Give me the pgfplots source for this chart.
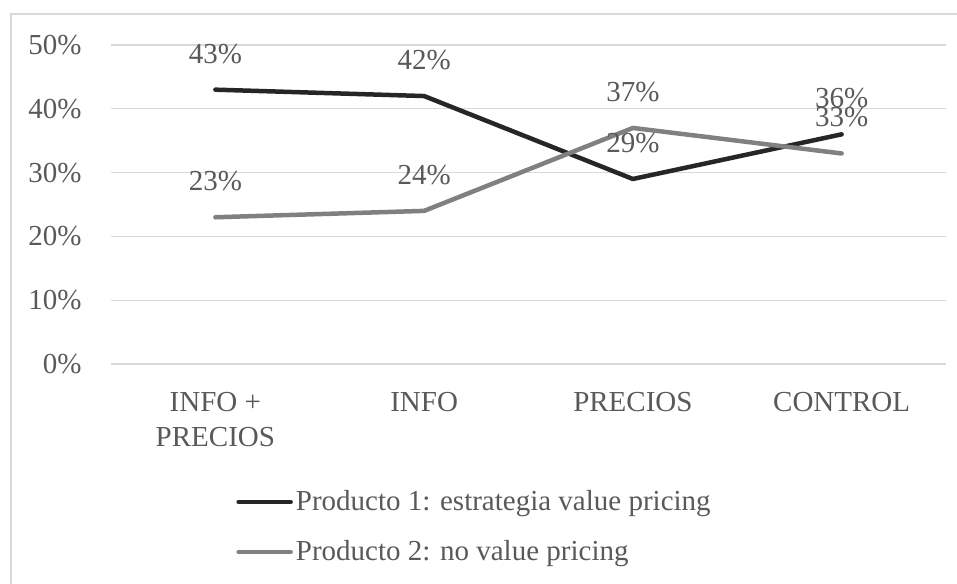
\documentclass[border=0pt]{standalone}
\usepackage{pgfplots}
\pgfplotsset{compat=1.18}
\usepackage{fontspec}
\setmainfont{Liberation Serif}
\definecolor{txt}{HTML}{595959}
\definecolor{gridc}{HTML}{D9D9D9}
\definecolor{serA}{HTML}{262626}
\definecolor{serB}{HTML}{808080}
\newcommand\cf{\fontsize{14.5}{17.5}\selectfont}
\begin{document}
\begin{tikzpicture}
\useasboundingbox (0,0) rectangle (478.5pt,291.5pt);
% chart frame (only left and top edges fall inside the picture)
\draw[gridc, line width=0.75pt] (5.5pt,-5pt) -- (5.5pt,284.5pt) -- (490pt,284.5pt);
\begin{axis}[
  at={(55.5pt,109.5pt)}, anchor=south west,
  scale only axis, width=417.5pt, height=159.5pt,
  xmin=-0.5, xmax=3.5, ymin=0, ymax=50,
  xtick={0,1,2,3},
  xticklabels={{INFO +\\PRECIOS},INFO,PRECIOS,CONTROL},
  ytick={0,10,20,30,40,50},
  axis line style={draw=none},
  major tick length=0pt,
  ymajorgrids, grid style={gridc, line width=0.6pt},
  /pgf/number format/assume math mode=true,
  every tick label/.append style={text=txt, inner sep=0pt, font=\cf},
  yticklabel={\pgfmathprintnumber{\tick}\%},
  yticklabel style={xshift=-14.5pt},
  xticklabel style={align=center, yshift=-14pt},
  nodes near coords={\pgfmathprintnumber{\pgfplotspointmeta}\%},
  every node near coord/.append style={text=txt, font=\cf, anchor=center, yshift=18pt, inner sep=0pt},
  clip=false,
  legend style={at={(axis description cs:0.1497,-0.395)}, anchor=north west,
    draw=none, fill=none, inner sep=0pt, font=\cf, text=txt,
    row sep=13.5pt, nodes={inner sep=0pt}, cells={anchor=west},
    /tikz/every odd column/.append style={column sep=1.5pt}},
  legend image code/.code={\draw[#1] (0pt,0pt) -- (26pt,0pt);},
]
\addplot[serA, line width=2.25pt, line join=round, line cap=round] coordinates {
  (0,43) (1,42) (2,29) (3,36)
};
\addlegendentry{Producto 1: estrategia value pricing}
\addplot[serB, line width=2.25pt, line join=round, line cap=round] coordinates {
  (0,23) (1,24) (2,37) (3,33)
};
\addlegendentry{Producto 2: no value pricing}
\end{axis}
\end{tikzpicture}
\end{document}
